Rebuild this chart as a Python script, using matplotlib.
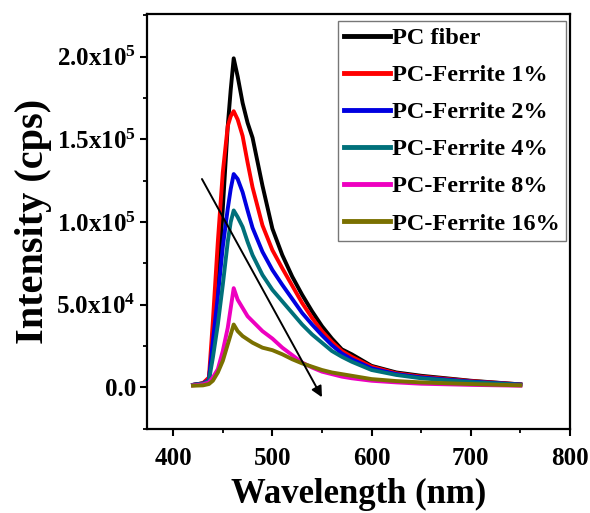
#!/usr/bin/env python3
import matplotlib
matplotlib.use('agg')
import matplotlib.pyplot as plt
from matplotlib.ticker import MultipleLocator, FuncFormatter

# wavelength grid (nm) and PL intensity (cps)
wavelength = [420, 430, 436, 440, 445, 450, 455, 458, 461, 465, 470, 475, 480,
              490, 500, 510, 520, 530, 540, 550, 560, 570, 580, 600, 625, 650,
              700, 750]
pc_fiber = [1500, 2500, 5000, 25000, 62000, 108000, 158000, 180000, 199000,
            188000, 172000, 160000, 151000, 122000, 96000, 80000, 67000, 56000,
            46000, 37000, 29500, 23000, 20000, 13000, 9000, 7000, 4000, 1800]
ferrite_1 = [1500, 2500, 6000, 40000, 88000, 130000, 158000, 164000, 167000,
             162000, 152000, 136000, 121000, 98000, 83000, 72000, 61500, 51000,
             42000, 34000, 27500, 22000, 18500, 12500, 8500, 6500, 3800, 1800]
ferrite_2 = [1500, 2300, 4500, 28000, 55000, 85000, 108000, 120000, 129000,
             126000, 118000, 107000, 96500, 82000, 71000, 62000, 53500, 45000,
             38000, 31500, 25500, 20500, 17000, 11500, 8000, 6000, 3500, 1700]
ferrite_4 = [1500, 2200, 4000, 18000, 38000, 62000, 88000, 100000, 107000,
             103000, 97000, 88000, 80000, 68000, 59000, 52000, 45000, 38000,
             32000, 27000, 22000, 18500, 15500, 10500, 7500, 5500, 3200, 1600]
ferrite_8 = [1200, 1800, 3000, 6000, 11000, 22000, 36000, 48000, 60000, 53000,
             48000, 43000, 40000, 34000, 29500, 24000, 19500, 15000, 12000,
             9500, 8000, 6500, 5500, 4000, 3000, 2200, 1500, 1000]
ferrite_16 = [1000, 1200, 2000, 4000, 9000, 16000, 26000, 32000, 38000, 34000,
              31000, 29000, 27000, 24000, 22500, 20000, 17000, 14500, 12500,
              10500, 9000, 8000, 7000, 5000, 3800, 3000, 2000, 1200]

series = [pc_fiber, ferrite_1, ferrite_2, ferrite_4, ferrite_8, ferrite_16]
labels = ['PC fiber', 'PC-Ferrite 1%', 'PC-Ferrite 2%', 'PC-Ferrite 4%',
          'PC-Ferrite 8%', 'PC-Ferrite 16%']
colors = ['#000000', '#ff0000', '#0000e0', '#00707a', '#ee00c0', '#7a7000']

# trend arrow (start, end) in data units
arrow_start = (429, 126000)
arrow_end = (550, -6000)

plt.rcParams['font.family'] = ['Liberation Serif', 'DejaVu Serif']
plt.rcParams['font.weight'] = 'bold'
plt.rcParams['mathtext.default'] = 'regular'


def sci_fmt(v, pos):
    if v == 0:
        return '0.0'
    exp = 0
    m = abs(v)
    while m >= 10:
        m /= 10.0
        exp += 1
    return '%.1fx10$^{%d}$' % (v / 10 ** exp, exp)


fig = plt.figure(figsize=(5.9, 5.13), dpi=100)
ax = fig.add_axes([0.249, 0.1637, 0.717, 0.809])

for y, lab, c in zip(series, labels, colors):
    ax.plot(wavelength, y, color=c, lw=2.8, label=lab, solid_joinstyle='round')

ax.annotate('', xy=arrow_end, xytext=arrow_start,
            arrowprops=dict(arrowstyle='-|>', color='black', lw=1.4,
                            mutation_scale=16, shrinkA=0, shrinkB=0))

ax.set_xlim(373.5, 800)
ax.set_ylim(-25200, 225800)
ax.xaxis.set_major_locator(MultipleLocator(100))
ax.xaxis.set_minor_locator(MultipleLocator(50))
ax.yaxis.set_major_locator(MultipleLocator(50000))
ax.yaxis.set_minor_locator(MultipleLocator(25000))
ax.yaxis.set_major_formatter(FuncFormatter(sci_fmt))

for s in ax.spines.values():
    s.set_linewidth(1.6)
ax.tick_params(which='major', direction='out', length=5, width=1.5,
               labelsize=18, pad=3)
ax.tick_params(axis='x', which='major', pad=8)
ax.tick_params(which='minor', direction='out', length=3, width=1.3)

ax.set_xlabel('Wavelength (nm)', fontsize=25, fontweight='bold', labelpad=6)
ax.set_ylabel('Intensity (cps)', fontsize=29, fontweight='bold', labelpad=3)

leg = ax.legend(loc='upper right', bbox_to_anchor=(0.991, 0.983),
                borderaxespad=0, fontsize=17.5, frameon=True, fancybox=False,
                handlelength=1.9, handletextpad=0.1, labelspacing=0.62,
                borderpad=0.25)
leg.get_frame().set_edgecolor('#555555')
leg.get_frame().set_linewidth(1.0)
for h in leg.get_lines():
    h.set_linewidth(3.5)

plt.savefig('out.png', dpi=100)
plt.close('all')
